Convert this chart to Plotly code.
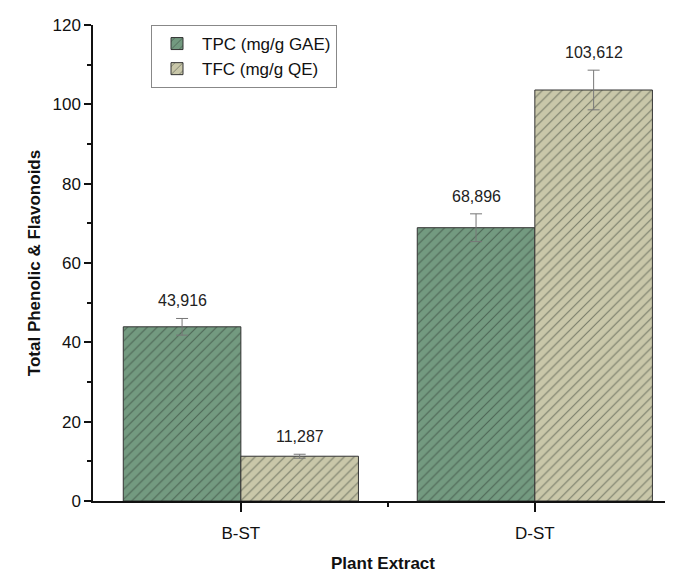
import plotly.graph_objects as go

categories = ["B-ST", "D-ST"]
tpc = [43.916, 68.896]
tfc = [11.287, 103.612]
tpc_err = [2.1, 3.5]
tfc_err = [0.5, 5.0]
series_names = ["TPC (mg/g GAE)", "TFC (mg/g QE)"]
y_ticks = [0, 20, 40, 60, 80, 100, 120]

xpos = list(range(len(categories)))
bargap = 0.2
bw = (1 - bargap) / 2

def fmt(v):
    return f"{v:.3f}".replace(".", ",")

fig = go.Figure()
specs = [
    (series_names[0], tpc, tpc_err, "#739a80"),
    (series_names[1], tfc, tfc_err, "#c9c7a9"),
]
for name, vals, errs, col in specs:
    fig.add_trace(go.Bar(
        name=name, x=xpos, y=vals,
        marker=dict(color=col,
                    line=dict(color="#333333", width=1),
                    pattern=dict(shape="/", fgcolor="#27312a", bgcolor=col,
                                 size=7, solidity=0.16, fillmode="overlay")),
        error_y=dict(type="data", array=errs, visible=True,
                     color="#777777", thickness=1, width=6),
    ))

for k, (name, vals, errs, col) in enumerate(specs):
    off = -bw / 2 if k == 0 else bw / 2
    for i, (v, e) in enumerate(zip(vals, errs)):
        fig.add_annotation(x=xpos[i] + off, y=v + e, text=fmt(v),
                           showarrow=False, yanchor="bottom", yshift=7,
                           font=dict(size=16, color="#222222"))

fig.update_layout(
    width=665, height=565,
    margin=dict(l=85, r=0, t=17, b=72),
    paper_bgcolor="white", plot_bgcolor="white",
    barmode="group", bargap=bargap, bargroupgap=0,
    font=dict(family="Liberation Sans, Arial, sans-serif", color="#111111"),
    showlegend=True,
    legend=dict(x=0.1, y=1.0, xanchor="left", yanchor="top",
                bgcolor="white", bordercolor="#888888", borderwidth=1,
                font=dict(size=17, color="#111111"),
                tracegroupgap=0, itemwidth=40),
)
fig.update_xaxes(
    range=[-0.503, 1.47],
    tickmode="array", tickvals=xpos, ticktext=categories,
    ticks="outside", ticklen=9, tickwidth=1.5, tickcolor="#111111",
    ticklabelstandoff=7,
    minor=dict(tickmode="array", tickvals=[0.5], ticks="outside",
               ticklen=4, tickwidth=1.5, tickcolor="#111111"),
    showline=True, linecolor="#111111", linewidth=1.5,
    showgrid=False, zeroline=False,
    tickfont=dict(size=17),
    title=dict(text="<b>Plant Extract</b>", font=dict(size=17), standoff=18),
)
fig.update_yaxes(
    range=[0, 120],
    tickmode="array", tickvals=y_ticks,
    ticks="outside", ticklen=7, tickwidth=1.5, tickcolor="#111111",
    minor=dict(dtick=10, tick0=0, ticks="outside", ticklen=4,
               tickwidth=1.5, tickcolor="#111111"),
    showline=True, linecolor="#111111", linewidth=1.5,
    showgrid=False, zeroline=False,
    tickfont=dict(size=17),
    title=dict(text="<b>Total Phenolic & Flavonoids</b>", font=dict(size=17), standoff=8),
)

fig.write_html("out.html")
